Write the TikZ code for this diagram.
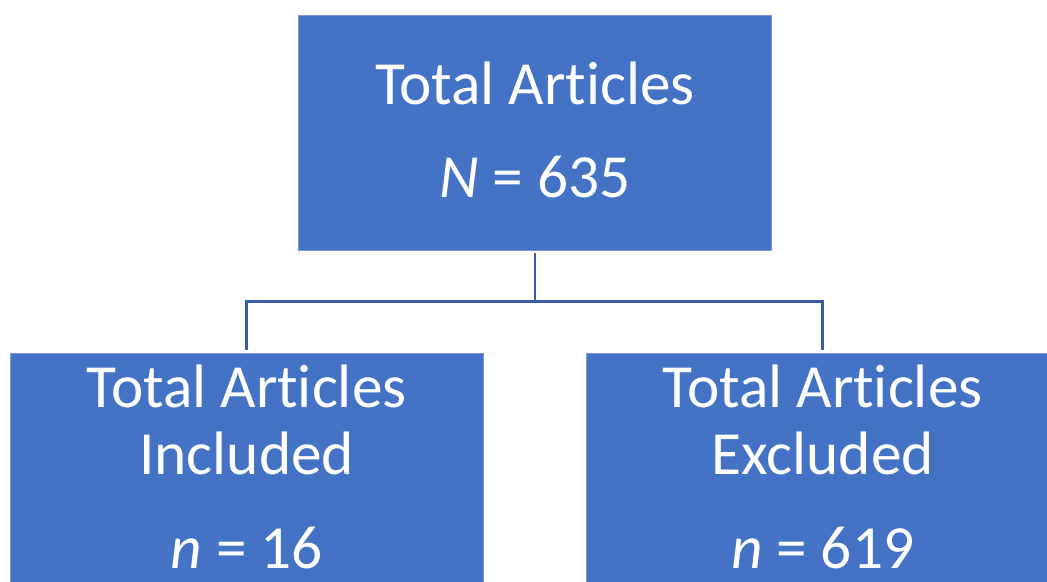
\documentclass[tikz,border=0pt]{standalone}
\usepackage{fontspec}
\setmainfont{Carlito}[Ligatures=NoCommon]
\definecolor{boxblue}{HTML}{4472C4}
\definecolor{boxedge}{HTML}{7A98D6}
\definecolor{lineblue}{HTML}{3A5CA3}
\providecommand{\FCtop}{\fontsize{46}{70}\selectfont}
\providecommand{\FCsub}{\fontsize{46}{50.75}\selectfont}
\providecommand{\FCgap}{19.25pt}
\tikzset{
  blk/.style={rectangle, fill=boxblue, draw=boxedge, line width=0.6pt,
              text=white, align=center, inner sep=0pt},
  topbox/.style={blk, font=\FCtop, text depth=4pt,
                 minimum width=355pt, minimum height=176.25pt},
  subbox/.style={blk, font=\FCsub, text depth=15pt,
                 minimum width=355pt, minimum height=185pt},
  edge/.style={draw=lineblue, line width=2pt, shorten <=2pt}
}

\begin{document}
\begin{tikzpicture}[x=0.75pt, y=-0.75pt]

\useasboundingbox (0,0) rectangle (1047,582);
\clip (0,0) rectangle (1047,582);

\node (total) [topbox] at (535,132.7) {Total Articles\\\textit{N} = 635};

\node (incl) [subbox] at (246.7,476.3)
    {Total Articles\\Included\\[\FCgap]\textit{n} = 16};

\node (excl) [subbox] at (822.7,476.3)
    {Total Articles\\Excluded\\[\FCgap]\textit{n} = 619};

\coordinate (branch) at (535,301.7);

% Total -> Included / Excluded
\draw[edge] (total.south) -- (branch);
\draw[edge, shorten <=0pt, shorten >=2pt] (branch) -| (incl.north);
\draw[edge, shorten <=0pt, shorten >=2pt] (branch) -| (excl.north);

\end{tikzpicture}
\end{document}
